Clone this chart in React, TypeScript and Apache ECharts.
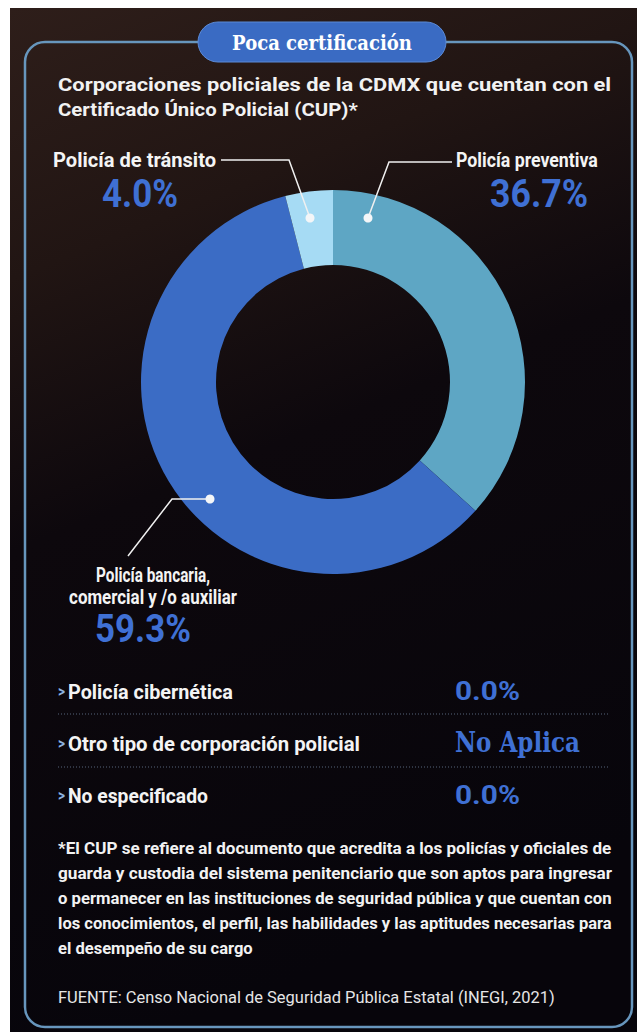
import React, { useEffect, useRef } from "react";
import * as echarts from "echarts";

const TITLE = "Poca certificación";
const SUBTITLE_LINES = [
  "Corporaciones policiales de la CDMX que cuentan con el",
  "Certificado Único Policial (CUP)*",
];
const categories = ["Policía preventiva", "Policía bancaria, comercial y /o auxiliar", "Policía de tránsito"];
const categoryLabelLines = [["Policía preventiva"], ["Policía bancaria,", "comercial y /o auxiliar"], ["Policía de tránsito"]];
const shares = [36.7, 59.3, 4.0];
const sliceColors = ["#5ea6c4", "#3b6cc5", "#a6dbf4"];
const otherCategories = ["Policía cibernética", "Otro tipo de corporación policial", "No especificado"];
const otherValues = ["0.0%", "No Aplica", "0.0%"];
const FOOTNOTE_LINES = [
  "*El CUP se refiere al documento que acredita a los policías y oficiales de",
  "guarda y custodia del sistema penitenciario que son aptos para ingresar",
  "o permanecer en las instituciones de seguridad pública y que cuentan con",
  "los conocimientos, el perfil, las habilidades y las aptitudes necesarias para",
  "el desempeño de su cargo",
];
const SOURCE = "FUENTE: Censo Nacional de Seguridad Pública Estatal (INEGI, 2021)";

const SANS = "Roboto, 'Noto Sans', sans-serif";
const SERIF = "'DejaVu Serif', 'Liberation Serif', serif";
const BLUE = "#3f70d4";

let ctx: CanvasRenderingContext2D | null = null;
function measure(text: string, size: number, weight: string, family: string) {
  if (!ctx) ctx = document.createElement("canvas").getContext("2d");
  if (!ctx) return text.length * size * 0.5;
  ctx.font = `${weight} ${size}px ${family}`;
  return ctx.measureText(text).width;
}

function txt(
  text: string,
  x: number,
  y: number,
  size: number,
  weight: string,
  family: string,
  fill: string,
  align: string,
  targetWidth?: number,
  extra: any = {}
) {
  const w = measure(text, size, weight, family);
  const scaleX = targetWidth ? targetWidth / w : 1;
  return {
    type: "text",
    x,
    y,
    scaleX,
    z: 100,
    silent: true,
    style: {
      text,
      fill,
      fontSize: size,
      fontWeight: weight,
      fontFamily: family,
      align,
      verticalAlign: "middle",
      textAlign: align,
      textVerticalAlign: "middle",
      ...extra,
    },
  };
}

export default function App() {
  const ref = useRef<HTMLDivElement>(null);
  useEffect(() => {
    document.body.style.margin = "0";
    if (!ref.current) return;
    const chart = echarts.init(ref.current, undefined, { renderer: "svg" });

    const g: any[] = [];
    // page background
    g.push({ type: "rect", z: 0, shape: { x: 0, y: 0, width: 637, height: 1032 }, style: { fill: "#ffffff" } });
    g.push({
      type: "rect",
      z: 0,
      shape: { x: 10, y: 8, width: 627, height: 1024 },
      style: {
        fill: {
          type: "linear",
          x: 0, y: 0, x2: 0.25, y2: 1,
          colorStops: [
            { offset: 0, color: "#2e1e1a" },
            { offset: 0.25, color: "#211513" },
            { offset: 0.5, color: "#0d080d" },
            { offset: 1, color: "#07050b" },
          ],
        },
      },
    });
    // frame
    g.push({
      type: "rect",
      z: 1,
      shape: { x: 25, y: 42, width: 607, height: 985, r: 20 },
      style: { fill: "transparent", stroke: "#6796bd", lineWidth: 2.5 },
    });
    // title pill
    g.push({
      type: "rect",
      z: 50,
      shape: { x: 198, y: 22, width: 248, height: 40, r: 20 },
      style: { fill: "#3a6bc3", stroke: "#5b8ad6", lineWidth: 1 },
    });
    g.push(txt(TITLE, 322, 43, 20, "bold", SERIF, "#ffffff", "center", 180));

    // subtitle
    const SUB = 18;
    const subW = measure(SUBTITLE_LINES[0], SUB, "bold", SANS);
    const subScale = 554 / subW;
    g.push(txt(SUBTITLE_LINES[0], 58, 85, SUB, "bold", SANS, "#f2f2f2", "left", 554));
    g.push(txt(SUBTITLE_LINES[1], 58, 110, SUB, "bold", SANS, "#f2f2f2", "left", measure(SUBTITLE_LINES[1], SUB, "bold", SANS) * subScale * 0.93));

    const pct = (v: number) => v.toFixed(1) + "%";
    const LAB = 20;
    const PCT = 38;
    // labels: preventiva
    g.push(txt(categoryLabelLines[0][0], 456, 160, LAB, "bold", SANS, "#f4f4f4", "left", 142));
    g.push(txt(pct(shares[0]), 539, 194, PCT, "bold", SANS, BLUE, "center", 98));
    // transito
    g.push(txt(categoryLabelLines[2][0], 53, 160, LAB, "bold", SANS, "#f4f4f4", "left", 163));
    g.push(txt(pct(shares[2]), 140, 194, PCT, "bold", SANS, BLUE, "center", 76));
    // bancaria
    g.push(txt(categoryLabelLines[1][0], 153, 575, LAB, "bold", SANS, "#f4f4f4", "center", 114));
    g.push(txt(categoryLabelLines[1][1], 153, 598, LAB, "bold", SANS, "#f4f4f4", "center", 168));
    g.push(txt(pct(shares[1]), 143, 629, PCT, "bold", SANS, BLUE, "center", 96));

    // leader lines + dots
    const leaders = [
      { pts: [[452, 162], [389, 162], [368, 218]], dot: [368, 218] },
      { pts: [[221, 160], [289, 160], [310, 218]], dot: [310, 218] },
      { pts: [[128, 556], [172, 499], [210, 499]], dot: [210, 499] },
    ];
    leaders.forEach((l) => {
      g.push({ type: "polyline", z: 90, silent: true, shape: { points: l.pts }, style: { stroke: "#f0f0f0", lineWidth: 1.5, fill: null } });
      g.push({ type: "circle", z: 91, silent: true, shape: { cx: l.dot[0], cy: l.dot[1], r: 4.5 }, style: { fill: "#f4f6f8" } });
    });

    // other categories list
    const rowY = [692, 744, 796];
    const rowW = [165, 292, 140];
    otherCategories.forEach((c, i) => {
      g.push(txt(">", 58, rowY[i], 16, "bold", SANS, "#8fb4e0", "left", 7));
      g.push(txt(c, 68, rowY[i], LAB, "bold", SANS, "#f4f4f4", "left", rowW[i]));
      const v = otherValues[i];
      if (v.indexOf("%") >= 0) {
        g.push(txt(v, 455, rowY[i] - 1, 26, "bold", SANS, BLUE, "left", 65));
      } else {
        g.push(txt(v, 455, rowY[i] - 2, 27, "bold", SERIF, BLUE, "left", 125));
      }
    });
    [714, 767].forEach((y) => {
      g.push({ type: "line", z: 60, silent: true, shape: { x1: 58, y1: y, x2: 608, y2: y }, style: { stroke: "#56647a", lineWidth: 1, lineDash: [1, 2] } });
    });

    // footnote
    const FN = 17;
    const fnY = [848, 873, 898, 923, 948];
    const scales: number[] = [];
    FOOTNOTE_LINES.forEach((line, i) => {
      if (i < 4) scales.push(554 / measure(line, FN, "bold", SANS));
    });
    const natScale = Math.min(...scales);
    FOOTNOTE_LINES.forEach((line, i) => {
      const w = measure(line, FN, "bold", SANS);
      g.push(txt(line, 58, fnY[i], FN, "bold", SANS, "#f2f2f2", "left", i < 4 ? 554 : w * natScale));
    });
    g.push(txt(SOURCE, 58, 997, FN, "normal", SANS, "#e6e6e6", "left", 497));

    chart.setOption({
      animation: false,
      backgroundColor: "transparent",
      graphic: { elements: g },
      series: [
        {
          type: "pie",
          z: 10,
          silent: true,
          center: [333, 382],
          radius: [117, 192],
          startAngle: 90,
          clockwise: true,
          label: { show: false },
          labelLine: { show: false },
          itemStyle: { borderWidth: 0 },
          data: categories.map((name, i) => ({ name, value: shares[i], itemStyle: { color: sliceColors[i] } })),
        },
      ],
    });
    return () => chart.dispose();
  }, []);
  return <div ref={ref} style={{ width: 637, height: 1032 }} />;
}
